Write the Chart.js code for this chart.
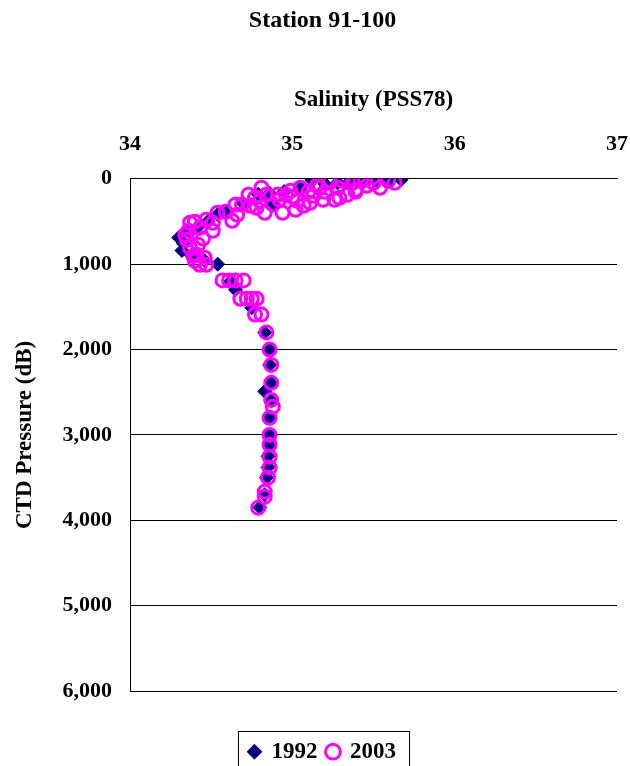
<!DOCTYPE html>
<html>
<head>
<meta charset="utf-8">
<script src="https://cdn.jsdelivr.net/npm/chart.js@4.4.0/dist/chart.umd.min.js"></script>
<style>
  html, body { margin: 0; padding: 0; background: #fff; }
</style>
</head>
<body>
<canvas id="myChart" width="630" height="766"></canvas>
<script>
// station 91-100 salinity profiles
const salinity1992 = [35.67, 35.60, 35.52, 35.44, 35.36, 35.28, 35.20, 35.12, 35.05, 34.95, 34.86, 34.79,
  34.84, 34.88, 34.70, 34.60, 34.54, 34.48, 34.42, 34.36, 34.30, 34.33, 34.32, 34.38, 34.46, 34.54,
  34.62, 34.65, 34.75, 34.83, 34.86, 34.86, 34.87, 34.83, 34.87, 34.86, 34.86, 34.86, 34.85, 34.85,
  34.84, 34.83, 34.80];
const pressure1992 = [10, 15, 25, 35, 20, 45, 60, 15, 110, 150, 170, 180,
  210, 305, 290, 380, 420, 500, 560, 620, 690, 760, 840, 900, 960, 1000,
  1200, 1300, 1510, 1800, 2000, 2180, 2390, 2490, 2600, 2800, 3000, 3120, 3250, 3380,
  3500, 3700, 3850];

const salinity2003 = [35.59, 35.54, 35.50, 35.46, 35.42, 35.37, 35.39, 35.34, 35.31, 35.28, 35.29, 35.23,
  35.19, 35.17, 35.15, 35.13, 35.10, 35.07, 35.05, 35.03, 35.00, 34.96, 34.94, 34.91, 34.88, 34.84,
  34.83, 34.80, 34.77, 34.74, 34.69, 34.66, 34.63, 34.54, 34.51, 34.51, 34.43, 34.37, 34.36, 34.35,
  34.45, 34.37, 34.39, 34.41, 34.40, 34.43, 34.47,
  34.92, 34.81, 34.73, 34.65, 34.59, 34.47, 34.40, 34.34, 34.42, 34.46, 35.02, 35.11, 35.20, 35.26,
  35.39, 35.45, 35.63, 34.99, 34.78,
  34.57, 34.61, 34.65, 34.70, 34.68, 34.72, 34.75, 34.78, 34.77, 34.81, 34.84, 34.86, 34.87, 34.87,
  34.87, 34.88, 34.86, 34.86, 34.86, 34.86, 34.86, 34.85, 34.83, 34.83, 34.79];
const pressure2003 = [23, 105, 47, 82, 23, 47, 129, 187, 23, 105, 222, 47,
  246, 105, 82, 199, 152, 316, 105, 258, 211, 187, 398, 187, 300, 187,
  398, 260, 222, 316, 304, 421, 492, 398, 515, 609, 574, 515, 609, 714,
  700, 808, 902, 890, 960, 1007, 1007,
  246, 105, 187, 304, 386, 480, 503, 656, 773, 925, 363, 281, 152, 246,
  152, 12, 47, 140, 340,
  1190, 1190, 1190, 1190, 1405, 1405, 1405, 1405, 1590, 1590, 1800, 2000, 2180, 2390,
  2590, 2670, 2800, 3000, 3115, 3255, 3384, 3500, 3665, 3724, 3852];

const seriesNames = ['1992', '2003'];
const salinityRange = [34, 37];
const pressureRange = [0, 6000];

const serif = "'Liberation Serif', 'Times New Roman', serif";

function toPoints(xs, ys) {
  return xs.map((x, i) => ({ x: x, y: ys[i] }));
}

// legend with a frame, sitting low like the excel one
const legendFrame = {
  id: 'legendFrame',
  beforeLayout(chart) {
    const lg = chart.legend;
    if (lg && !lg._fixed) {
      const fit = lg.fit;
      lg.fit = function () { fit.call(this); this.height = 75; };
      lg._fixed = true;
    }
  },
  afterDraw(chart) {
    const boxes = chart.legend && chart.legend.legendHitBoxes;
    if (!boxes || !boxes.length) return;
    const ctx = chart.ctx;
    const left = Math.min(...boxes.map(b => b.left)) - 11;
    const right = Math.max(...boxes.map(b => b.left + b.width)) + 13;
    const top = boxes[0].top - 9;
    ctx.save();
    ctx.strokeStyle = '#000';
    ctx.lineWidth = 1;
    ctx.strokeRect(Math.round(left) + 0.5, Math.round(top) + 0.5, Math.round(right - left), 60);
    ctx.restore();
  }
};

const ctx = document.getElementById('myChart');

new Chart(ctx, {
  type: 'scatter',
  data: {
    datasets: [{
      label: seriesNames[0],
      data: toPoints(salinity1992, pressure1992),
      pointStyle: 'rectRot',
      pointRadius: 7,
      pointHoverRadius: 7,
      backgroundColor: '#000080',
      borderColor: '#000080',
      borderWidth: 1,
      order: 1
    }, {
      label: seriesNames[1],
      data: toPoints(salinity2003, pressure2003),
      pointStyle: 'circle',
      pointRadius: 6.5,
      pointHoverRadius: 6.5,
      backgroundColor: 'rgba(0,0,0,0)',
      borderColor: '#ff00ff',
      borderWidth: 3,
      order: 0
    }]
  },
  options: {
    responsive: false,
    animation: false,
    devicePixelRatio: 1,
    layout: { padding: { left: 28, right: 13, top: 0, bottom: 0 } },
    plugins: {
      title: {
        display: true,
        text: 'Station 91-100',
        color: '#000',
        font: { family: serif, size: 24, weight: 'bold' },
        padding: { top: 6, bottom: 6 }
      },
      legend: {
        position: 'bottom',
        title: { display: true, text: '', font: { size: 1 }, padding: { top: 38, bottom: 0 } },
        labels: {
          usePointStyle: true,
          boxWidth: 11,
          boxHeight: 10.5,
          padding: 10,
          color: '#000',
          font: { family: serif, size: 23, weight: 'bold' },
          sort: (a, b) => a.datasetIndex - b.datasetIndex
        }
      },
      tooltip: { enabled: false }
    },
    scales: {
      x: {
        type: 'linear',
        position: 'top',
        min: salinityRange[0],
        max: salinityRange[1],
        grid: { display: false, drawTicks: false },
        border: { display: true, color: '#000', width: 1 },
        ticks: {
          stepSize: 1,
          padding: 21,
          color: '#000',
          font: { family: serif, size: 22, weight: 'bold' }
        },
        title: {
          display: true,
          text: 'Salinity (PSS78)',
          color: '#000',
          font: { family: serif, size: 23, weight: 'bold' },
          padding: { top: 45, bottom: 0 }
        },
        afterFit(scale) {
          scale.height = 138;
          scale.paddingLeft = 0;
          scale.paddingRight = 0;
        }
      },
      y: {
        type: 'linear',
        reverse: true,
        min: pressureRange[0],
        max: pressureRange[1],
        grid: { color: '#000', lineWidth: 1, drawTicks: false },
        border: { display: true, color: '#000', width: 1 },
        ticks: {
          stepSize: 1000,
          padding: 18,
          color: '#000',
          font: { family: serif, size: 22, weight: 'bold' },
          callback: v => v.toLocaleString('en-US')
        },
        title: {
          display: true,
          text: 'CTD Pressure (dB)',
          color: '#000',
          font: { family: serif, size: 23, weight: 'bold' },
          padding: { top: -17, bottom: 0 }
        },
        afterFit(scale) { scale.width = 102; }
      }
    }
  },
  plugins: [legendFrame]
});
</script>
</body>
</html>
